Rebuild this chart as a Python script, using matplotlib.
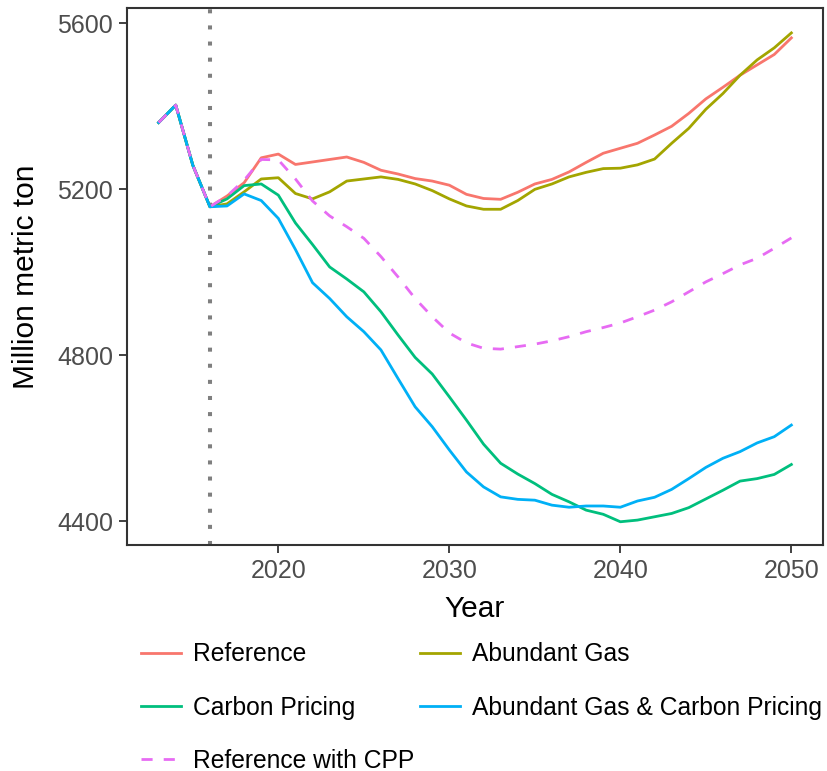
import matplotlib
matplotlib.use("Agg")
import matplotlib.pyplot as plt

plt.rcParams['font.family'] = ['Liberation Sans', 'DejaVu Sans']

years = list(range(2013, 2051))
history = [5361, 5403, 5258, 5158]

# emissions by scenario, million metric ton (2013-2016 shared history)
reference = history + [5184, 5216, 5276, 5285, 5260, 5266, 5272, 5278, 5265, 5246,
                       5237, 5226, 5220, 5210, 5188, 5178, 5176, 5193, 5213, 5224,
                       5242, 5265, 5287, 5299, 5311, 5331, 5352, 5383, 5418, 5446,
                       5475, 5500, 5525, 5565]
abundant_gas = history + [5165, 5194, 5225, 5228, 5190, 5177, 5194, 5220, 5225, 5230,
                          5224, 5213, 5197, 5177, 5160, 5152, 5152, 5173, 5200, 5213,
                          5230, 5241, 5250, 5251, 5259, 5273, 5311, 5347, 5393, 5431,
                          5475, 5512, 5541, 5577]
carbon_pricing = history + [5177, 5209, 5213, 5186, 5119, 5067, 5013, 4984, 4953, 4905,
                            4849, 4795, 4755, 4700, 4644, 4586, 4540, 4514, 4491, 4465,
                            4447, 4427, 4417, 4399, 4403, 4411, 4419, 4433, 4454, 4475,
                            4497, 4503, 4513, 4537]
gas_and_carbon = history + [5160, 5189, 5173, 5130, 5055, 4975, 4937, 4893, 4857, 4813,
                            4744, 4676, 4628, 4572, 4519, 4483, 4459, 4453, 4451, 4439,
                            4434, 4437, 4437, 4434, 4449, 4458, 4477, 4503, 4530, 4552,
                            4568, 4589, 4604, 4632]
reference_cpp = history + [5184, 5222, 5272, 5271, 5225, 5172, 5136, 5110, 5082, 5038,
                           4989, 4937, 4893, 4854, 4830, 4817, 4815, 4821, 4827, 4835,
                           4845, 4857, 4867, 4878, 4893, 4909, 4929, 4953, 4977, 4997,
                           5018, 5034, 5058, 5083]

series = [
    ("Reference", reference, "#F8766D", "-"),
    ("Abundant Gas", abundant_gas, "#A3A500", "-"),
    ("Carbon Pricing", carbon_pricing, "#00BF7D", "-"),
    ("Abundant Gas & Carbon Pricing", gas_and_carbon, "#00B0F6", "-"),
    ("Reference with CPP", reference_cpp, "#E76BF3", (0, (4, 4))),
]

x_ticks = [2020, 2030, 2040, 2050]
y_ticks = [4400, 4800, 5200, 5600]
policy_year = 2016

W, H = 828, 771
fig = plt.figure(figsize=(W / 100, H / 100), dpi=100)
ax = fig.add_axes([127 / W, 1 - 545 / H, (823 - 127) / W, (545 - 8) / H])

lw = 2.0
ax.axvline(policy_year, color="#7F7F7F", linewidth=lw * 1.45,
           linestyle=(0, (1, 3)), dash_capstyle="butt", zorder=1)

handles = {}
for name, vals, col, ls in series:
    line, = ax.plot(years, vals, color=col, linewidth=lw, linestyle=ls,
                    solid_joinstyle="round", dash_capstyle="butt", zorder=2)
    handles[name] = line

ax.set_xlim(2011.15, 2051.85)
ax.set_ylim(4343, 5637)
ax.set_xticks(x_ticks)
ax.set_yticks(y_ticks)

for s in ax.spines.values():
    s.set_color("#333333")
    s.set_linewidth(1.5)
ax.tick_params(axis="both", direction="out", length=5.5, width=1.3,
               color="#333333", labelcolor="#4D4D4D", labelsize=18, pad=4.5)

ax.set_xlabel("Year", fontsize=21.5, color="black")
ax.xaxis.set_label_coords(0.5, -0.134)
ax.xaxis.label.set_va("baseline")
ax.set_ylabel("Million metric ton", fontsize=21.5, color="black")
ax.yaxis.set_label_coords(-0.145, 0.5)
ax.yaxis.label.set_va("center")

# legend filled row by row, 2 columns (matplotlib fills column-wise)
order = ["Reference", "Carbon Pricing", "Reference with CPP",
         "Abundant Gas", "Abundant Gas & Carbon Pricing"]
fig.legend([handles[n] for n in order], order, loc="center",
           bbox_to_anchor=(481.5 / W, 1 - 707.5 / H), ncol=2, frameon=False,
           fontsize=17.7, handlelength=1.63, handletextpad=0.5,
           columnspacing=0.2, labelspacing=1.18, borderpad=0)

fig.savefig("out.png", dpi=100, facecolor="white")
